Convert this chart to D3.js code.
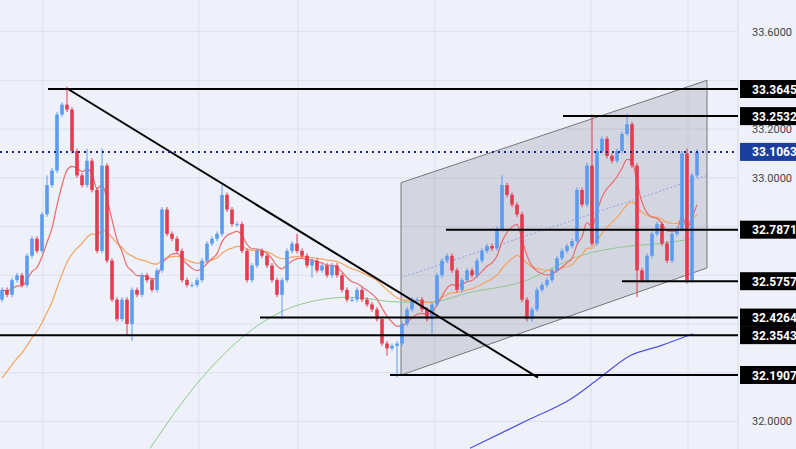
<!DOCTYPE html><html><head><meta charset="utf-8">
<script src="https://cdn.jsdelivr.net/npm/d3@7"></script>
<style>body{margin:0;background:#eef1f9}svg{display:block}</style></head><body>
<svg id="c" width="796" height="449"></svg>
<script>
const closes=[32.54,32.52,32.58,32.60,32.56,32.68,32.75,32.70,32.85,32.97,33.03,33.26,33.30,33.28,33.11,33.01,32.97,33.07,32.95,32.70,
33.05,32.66,32.50,32.42,32.50,32.40,32.54,32.52,32.60,32.58,32.54,32.62,32.87,32.77,32.75,32.70,32.58,32.56,32.56,32.58,
32.66,32.73,32.75,32.77,32.93,32.87,32.81,32.81,32.70,32.58,32.64,32.70,32.68,32.64,32.58,32.52,32.58,32.70,32.73,32.70,
32.68,32.64,32.66,32.62,32.64,32.60,32.64,32.60,32.54,32.50,32.50,32.54,32.50,32.48,32.46,32.42,32.32,32.30,32.31,32.32,
32.40,32.46,32.50,32.50,32.46,32.42,32.48,32.60,32.66,32.68,32.62,32.54,32.58,32.62,32.60,32.66,32.70,32.72,32.71,32.79,
32.97,32.93,32.89,32.85,32.50,32.42,32.46,32.54,32.56,32.58,32.62,32.67,32.70,32.72,32.74,32.95,32.89,33.05,32.73,33.11,
33.16,33.09,33.07,33.11,33.18,33.22,33.05,32.62,32.58,32.68,32.77,32.81,32.73,32.66,32.77,32.79,33.10,32.58,33.01,33.1063];
const firstOpen=32.50;
const highOverrides=[[13,33.3645],[17,33.11],[20,33.11],[44,32.96],[118,33.25],[125,33.2532],[137,33.11],[9,33.0],[100,33.0],[59,32.76]];
const lowOverrides=[[25,32.36],[26,32.34],[79,32.1907],[105,32.43],[127,32.52],[137,32.5757],[56,32.43],[77,32.28],[86,32.37],[62,32.60]];
const greenPts=[[29.6,31.89],[39.6,32.17],[51.6,32.40],[59.6,32.48],[69.6,32.51],[79.6,32.49],[85.6,32.49],[93.6,32.53],[103.6,32.57],[115.6,32.68],[125.6,32.72],[131.6,32.73],[138.2,32.75]];
const bluePts=[[93.6,31.89],[105.6,32.01],[113.6,32.09],[119,32.17],[125.6,32.27],[131.6,32.31],[138.2,32.36]];
const orangeSeed=32.15;
const hLevels=[[9.2,33.3645],[112.2,33.2532],[88.8,32.7871],[124,32.5757],[51.6,32.4264],[-1,32.3543],[77.6,32.1907]];
const currentPrice=33.1063;
const channel=[[79.8,32.98],[141,33.40],[141,32.63],[79.8,32.19]];
const channelMid=[[79.8,32.59],[141,33.01]];
const downTrend=[[13.2,33.3645],[107.2,32.18]];
const axisTicks=[33.6,33.4,33.2,33.0,32.8,32.6,32.4,32.2,32.0];
const vGridIdx=[8.2,39.4,59.2,86.6,117.8,137.2];

const svg=d3.select("#c");
const x=d3.scaleLinear().domain([0,139]).range([2,697]);
const y=d3.scaleLinear().domain([32.1907,33.3645]).range([375,89]);
const W=738;
svg.append("rect").attr("width",796).attr("height",449).attr("fill","#eef1f9");
const g=svg.append("g");
axisTicks.forEach(t=>g.append("line").attr("x1",0).attr("x2",W).attr("y1",y(t)).attr("y2",y(t)).attr("stroke","#dbe1ee"));
vGridIdx.forEach(t=>g.append("line").attr("x1",x(t)).attr("x2",x(t)).attr("y1",0).attr("y2",449).attr("stroke","#dbe1ee"));
g.append("line").attr("x1",W).attr("x2",W).attr("y1",0).attr("y2",449).attr("stroke","#d6dbe8");
const pl=d3.line().x(d=>x(d[0])).y(d=>y(d[1]));
g.append("path").attr("d",pl(channel)+"Z").attr("fill","rgba(150,150,165,0.3)").attr("stroke","#777").attr("stroke-width",1);
g.append("path").attr("d",pl(channelMid)).attr("stroke","#8fa6e0").attr("stroke-dasharray","2,2").attr("fill","none");
const ema=(arr,n,seed)=>{const k=2/(n+1);let e=seed;return arr.map(v=>e=v*k+e*(1-k));};
const red=ema(closes,9,closes[0]);
const orange=ema(closes,26,orangeSeed);
const ln=d3.line().x((d,i)=>x(i)).y(d=>y(d)).curve(d3.curveMonotoneX);
const lp=d3.line().x(d=>x(d[0])).y(d=>y(d[1])).curve(d3.curveMonotoneX);
g.append("path").attr("d",lp(greenPts)).attr("stroke","#8fc98f").attr("fill","none").attr("stroke-width",1);
g.append("path").attr("d",lp(bluePts)).attr("stroke","#5050e6").attr("fill","none").attr("stroke-width",1.2);
g.append("path").attr("d",ln(orange)).attr("stroke","#f4a460").attr("fill","none").attr("stroke-width",1.2);
g.append("path").attr("d",ln(red)).attr("stroke","#ec6a6a").attr("fill","none").attr("stroke-width",1.2);
const hiMap=new Map(highOverrides),loMap=new Map(lowOverrides);
closes.forEach((c,i)=>{
  const o=i?closes[i-1]:firstOpen;
  const up=c>=o, col=up?"#5b9cf0":"#e33b50";
  const hi=Math.max(hiMap.get(i)??0,o,c)+0.01, lo=Math.min(loMap.get(i)??99,o,c)-0.01;
  g.append("line").attr("x1",x(i)).attr("x2",x(i)).attr("y1",y(hi)).attr("y2",y(lo)).attr("stroke",col).attr("stroke-width",1);
  const top=y(Math.max(o,c)),bot=y(Math.min(o,c));
  g.append("rect").attr("x",x(i)-1.8).attr("width",3.6).attr("y",top).attr("height",Math.max(1,bot-top)).attr("fill",col);
});
g.append("path").attr("d",pl(downTrend)).attr("stroke","#000").attr("stroke-width",2);
g.append("line").attr("x1",0).attr("x2",W).attr("y1",y(currentPrice)).attr("y2",y(currentPrice)).attr("stroke","#1a2a80").attr("stroke-width",2).attr("stroke-dasharray","2,4");
hLevels.forEach(([i0,p])=>g.append("line").attr("x1",Math.max(0,x(i0))).attr("x2",W).attr("y1",y(p)).attr("y2",y(p)).attr("stroke","#000").attr("stroke-width",2));
const labelPrices=hLevels.map(d=>d[1]).concat([currentPrice]);
axisTicks.filter(t=>labelPrices.every(p=>Math.abs(y(p)-y(t))>=12)).forEach(t=>svg.append("text").attr("x",752).attr("y",y(t)+4).text(t.toFixed(4)).attr("font-family","Roboto, sans-serif").attr("font-size",11).attr("fill","#444"));
const lab=(p,fill)=>{svg.append("rect").attr("x",740).attr("y",y(p)-9).attr("width",56).attr("height",18).attr("fill",fill);
  svg.append("text").attr("x",752).attr("y",y(p)+4.5).text(p.toFixed(4)).attr("font-family","Roboto, sans-serif").attr("font-weight","bold").attr("font-size",12).attr("fill","#fff");};
hLevels.forEach(([,p])=>lab(p,"#000"));
lab(currentPrice,"#1c3f9e");
</script></body></html>
